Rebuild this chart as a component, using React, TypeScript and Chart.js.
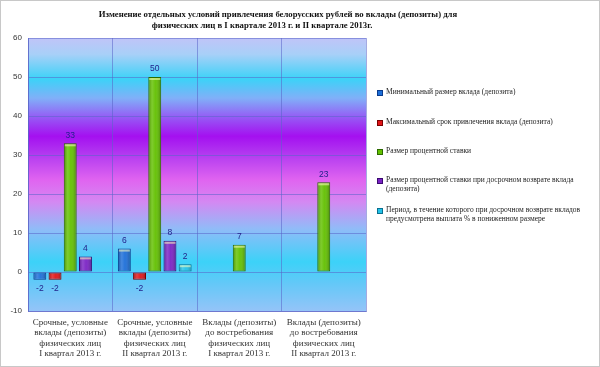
import React, { useEffect, useRef } from 'react';
import { Chart, registerables } from 'chart.js';
Chart.register(...registerables);

const titleLine1 = 'Изменение отдельных условий привлечения белорусских рублей во вклады (депозиты) для';
const titleLine2 = 'физических лиц в I квартале 2013 г. и II квартале 2013г.';

const categories = [
  ['Срочные, условные', 'вклады (депозиты)', 'физических лиц', 'I квартал 2013 г.'],
  ['Срочные, условные', 'вклады (депозиты)', 'физических лиц', 'II квартал 2013 г.'],
  ['Вклады (депозиты)', 'до востребования', 'физических лиц', 'I квартал 2013 г.'],
  ['Вклады (депозиты)', 'до востребования', 'физических лиц', 'II квартал 2013 г.'],
];

const minDeposit = [-2, 6, null, null];
const maxTerm = [-2, -2, null, null];
const interestRate = [33, 50, 7, 23];
const earlyReturnRate = [4, 8, null, null];
const reducedPeriod = [null, 2, null, null];

const seriesNames = [
  ['Минимальный размер вклада (депозита)'],
  ['Максимальный срок привлечения вклада (депозита)'],
  ['Размер процентной ставки'],
  ['Размер процентной ставки  при досрочном возврате вклада', '(депозита)'],
  ['Период, в течение которого при досрочном возврате вкладов', 'предусмотрена выплата % в пониженном размере'],
];

const seriesColors = ['#1c6ed8', '#e01418', '#62c000', '#7a22c4', '#22c2e8'];
const seriesBorders = ['#0a3a8c', '#7a0000', '#2c6a00', '#3a0a70', '#0a7090'];

const yMin = -10;
const yMax = 60;
const yStep = 10;

const bgPlugin = {
  id: 'bgGrad',
  beforeDraw(chart: any) {
    const { ctx, chartArea } = chart;
    const { left, right, top, bottom } = chartArea;
    const g = ctx.createLinearGradient(0, top, 0, bottom);
    g.addColorStop(0, '#c0c4f8');
    g.addColorStop(0.06, '#a8d0f8');
    g.addColorStop(0.15, '#3cd2f8');
    g.addColorStop(0.22, '#80b0f8');
    g.addColorStop(0.30, '#9850f4');
    g.addColorStop(0.36, '#a410f0');
    g.addColorStop(0.43, '#b43cf0');
    g.addColorStop(0.52, '#e064f0');
    g.addColorStop(0.60, '#d488f2');
    g.addColorStop(0.70, '#90bcf8');
    g.addColorStop(0.82, '#3cd2f8');
    g.addColorStop(0.90, '#64c8f8');
    g.addColorStop(1, '#94c4f8');
    ctx.save();
    ctx.fillStyle = g;
    ctx.fillRect(left, top, right - left, bottom - top);
    ctx.restore();
  },
};

const barShadePlugin = {
  id: 'barShade',
  afterDatasetsDraw(chart: any) {
    const { ctx } = chart;
    ctx.save();
    chart.data.datasets.forEach((ds: any, di: number) => {
      const meta = chart.getDatasetMeta(di);
      meta.data.forEach((bar: any, i: number) => {
        const v = ds.data[i];
        if (v === null || v === undefined) return;
        const x0 = bar.x - bar.width / 2;
        const x1 = bar.x + bar.width / 2;
        const yTop = Math.min(bar.y, bar.base);
        const yBot = Math.max(bar.y, bar.base);
        const g = ctx.createLinearGradient(x0, 0, x1, 0);
        g.addColorStop(0, 'rgba(0,0,0,0.25)');
        g.addColorStop(0.3, 'rgba(255,255,255,0.18)');
        g.addColorStop(0.55, 'rgba(255,255,255,0.05)');
        g.addColorStop(1, 'rgba(0,0,0,0.3)');
        ctx.fillStyle = g;
        ctx.fillRect(x0 + 1, yTop + 1, x1 - x0 - 2, yBot - yTop - 2);
        if (v > 0) {
          ctx.fillStyle = 'rgba(255,255,190,0.55)';
          ctx.fillRect(x0 + 1, yTop + 1, x1 - x0 - 2, 2);
        }
        ctx.fillStyle = '#22228a';
        ctx.font = '8.5px "Liberation Sans", Arial, sans-serif';
        ctx.textAlign = 'center';
        ctx.textBaseline = 'middle';
        const ly = v >= 0 ? yTop - 8 : yBot + 9;
        ctx.fillText(String(v), bar.x, ly);
      });
    });
    ctx.restore();
  },
};

export default function App() {
  const canvasRef = useRef<HTMLCanvasElement | null>(null);

  useEffect(() => {
    document.body.style.margin = '0';
    const canvas = canvasRef.current;
    if (!canvas) return;
    const dataSeries = [minDeposit, maxTerm, interestRate, earlyReturnRate, reducedPeriod];
    const chart = new Chart(canvas, {
      type: 'bar',
      data: {
        labels: categories,
        datasets: dataSeries.map((d, i) => ({
          label: seriesNames[i].join(' '),
          data: d,
          backgroundColor: seriesColors[i],
          borderColor: seriesBorders[i],
          borderWidth: 1,
          borderSkipped: false,
          categoryPercentage: 0.9,
          barPercentage: 0.85,
        })),
      },
      options: {
        animation: false,
        responsive: false,
        maintainAspectRatio: false,
        layout: { padding: { left: 0, right: 234, top: 38, bottom: 0 } },
        plugins: {
          legend: { display: false },
          title: { display: false },
          tooltip: { enabled: false },
        },
        scales: {
          x: {
            grid: { color: 'rgba(90,100,200,0.55)', lineWidth: 1, offset: true, drawTicks: false },
            border: { color: 'rgba(90,100,200,0.7)' },
            ticks: {
              color: '#333333',
              font: { family: '"Liberation Serif", "Times New Roman", serif', size: 9, lineHeight: 1.12 },
              padding: 7,
              maxRotation: 0,
              autoSkip: false,
            },
            afterFit(scale: any) { scale.height = 56; },
          },
          y: {
            min: yMin,
            max: yMax,
            grid: { color: 'rgba(90,100,200,0.55)', lineWidth: 1, drawTicks: false },
            border: { color: 'rgba(90,100,200,0.7)' },
            ticks: {
              stepSize: yStep,
              color: '#333333',
              font: { family: '"Liberation Sans", Arial, sans-serif', size: 8 },
              padding: 6,
            },
            afterFit(scale: any) { scale.width = 28; },
          },
        },
      },
      plugins: [bgPlugin, barShadePlugin],
    });
    return () => chart.destroy();
  }, []);

  const legendTops = [87, 117, 146, 175, 205];

  return (
    <div style={{ position: 'relative', width: 600, height: 367, background: '#ffffff', overflow: 'hidden' }}>
      <canvas ref={canvasRef} width={600} height={367} style={{ position: 'absolute', left: 0, top: 0 }} />
      <div style={{ position: 'absolute', left: 0, top: 0, width: 598, height: 365, border: '1px solid #c8c8c8', pointerEvents: 'none' }} />
      <div style={{ position: 'absolute', left: 278, top: 9, transform: 'translateX(-50%)', whiteSpace: 'nowrap', font: 'bold 8.7px "Liberation Serif", "Times New Roman", serif', color: '#111' }}>{titleLine1}</div>
      <div style={{ position: 'absolute', left: 262, top: 20, transform: 'translateX(-50%)', whiteSpace: 'nowrap', font: 'bold 8.7px "Liberation Serif", "Times New Roman", serif', color: '#111' }}>{titleLine2}</div>
      {seriesNames.map((lines, i) => (
        <div key={i} style={{ position: 'absolute', left: 377, top: legendTops[i], width: 220 }}>
          <div style={{ position: 'absolute', left: 0, top: 3, width: 4, height: 4, background: seriesColors[i], border: `1px solid ${seriesBorders[i]}` }} />
          <div style={{ position: 'absolute', left: 9, top: 0, font: '7.5px "Liberation Serif", "Times New Roman", serif', lineHeight: '9px', color: '#222', whiteSpace: 'nowrap' }}>
            {lines.map((l, j) => (<div key={j}>{l}</div>))}
          </div>
        </div>
      ))}
    </div>
  );
}
